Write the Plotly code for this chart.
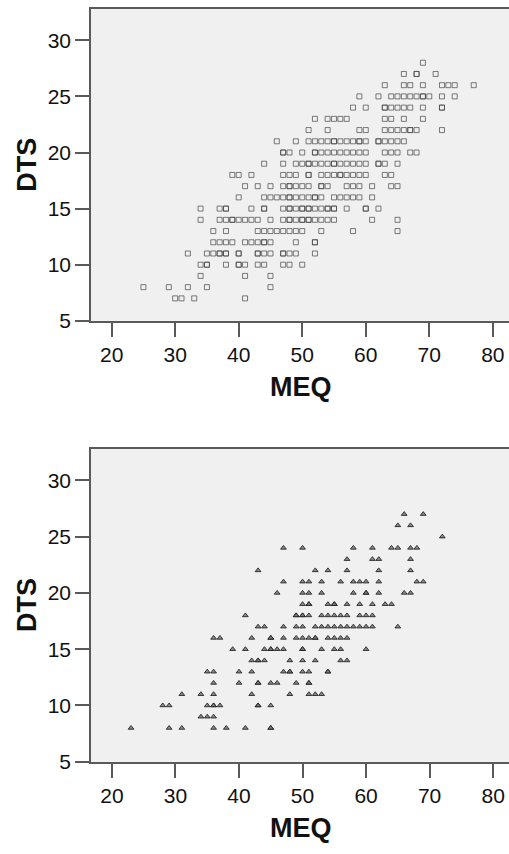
import plotly.graph_objects as go

# ---- data: MEQ values observed at each DTS level ----
top_dts_levels = [28, 27, 26, 25, 24, 23, 22, 21, 20, 19, 18, 17, 16, 15, 14, 13, 12, 11, 10, 9, 8, 7]
top_meq_by_level = [
    [69],
    [66, 68, 68, 71],
    [63, 66, 67, 69, 72, 73, 74, 77],
    [59, 62, 64, 65, 66, 67, 68, 69, 69, 70, 72, 74],
    [58, 60, 63, 63, 64, 65, 66, 67, 69, 72, 72],
    [52, 54, 55, 56, 57, 63, 64, 66, 69],
    [51, 54, 59, 60, 63, 64, 65, 66, 67, 67, 68, 72],
    [46, 49, 51, 52, 53, 54, 55, 55, 56, 57, 58, 59, 59, 60, 62, 62, 63, 64, 65, 66],
    [47, 47, 48, 50, 52, 52, 53, 54, 55, 56, 57, 58, 59, 60, 63, 64, 65, 67, 68],
    [44, 47, 49, 50, 51, 51, 52, 53, 54, 55, 55, 56, 57, 58, 59, 60, 62, 62, 63, 65],
    [39, 40, 42, 47, 48, 49, 51, 51, 53, 54, 55, 56, 56, 57, 58, 59, 60, 63, 64],
    [41, 43, 45, 47, 48, 48, 49, 50, 51, 53, 53, 54, 57, 58, 59, 61, 64, 65],
    [40, 44, 45, 46, 47, 48, 48, 49, 50, 51, 52, 52, 53, 55, 56, 57, 58, 59, 61],
    [34, 37, 38, 38, 42, 44, 44, 47, 48, 48, 49, 50, 50, 51, 51, 52, 53, 54, 54, 55, 55, 57, 60, 60, 62],
    [34, 37, 38, 39, 39, 40, 41, 42, 43, 45, 47, 48, 48, 49, 50, 50, 51, 51, 52, 53, 54, 55, 61, 65],
    [36, 38, 43, 44, 45, 46, 47, 48, 49, 50, 53, 58, 65],
    [36, 37, 38, 39, 41, 42, 43, 44, 44, 45, 49, 52, 52],
    [32, 35, 36, 37, 37, 38, 38, 40, 40, 43, 43, 44, 45, 47, 47, 48, 49, 52],
    [34, 35, 35, 38, 40, 40, 41, 43, 44, 47, 48, 50],
    [34, 41, 45],
    [25, 29, 32, 35, 45],
    [30, 31, 33, 41],
]

bottom_dts_levels = [27, 26, 25, 24, 23, 22, 21, 20, 19, 18, 17, 16, 15, 14, 13, 12, 11, 10, 9, 8]
bottom_meq_by_level = [
    [66, 69],
    [65, 67],
    [72],
    [47, 50, 58, 61, 64, 65, 67, 68],
    [57, 61, 62, 67],
    [43, 52, 54, 57, 62, 67],
    [47, 50, 51, 53, 56, 58, 59, 60, 62, 68, 69],
    [46, 50, 51, 53, 58, 60, 60, 62, 66, 67],
    [50, 51, 51, 54, 55, 55, 57, 59, 61, 63, 64],
    [41, 49, 49, 50, 50, 51, 53, 54, 55, 56, 57, 59, 60, 61],
    [43, 44, 47, 49, 50, 52, 53, 54, 55, 56, 57, 58, 59, 60, 61, 65],
    [36, 37, 42, 45, 45, 47, 49, 50, 51, 52, 52, 54, 55, 56, 57],
    [39, 41, 44, 45, 45, 46, 47, 50, 50, 53, 55, 56, 60],
    [42, 43, 43, 44, 48, 50, 52, 56, 57],
    [35, 36, 40, 42, 47, 48, 48, 50, 51, 54, 54],
    [36, 40, 43, 43, 45, 46, 49, 51, 51],
    [31, 34, 36, 42, 48, 51, 52, 53],
    [28, 29, 35, 36, 36, 37, 43, 43, 45],
    [34, 35, 36],
    [23, 29, 31, 36, 38, 41, 45, 45],
]

x_tickvals = [20, 30, 40, 50, 60, 70, 80]
y_tickvals = [5, 10, 15, 20, 25, 30]
x_title = "MEQ"
y_title = "DTS"


def flatten(levels, rows):
    xs, ys = [], []
    for lv, row in zip(levels, rows):
        for m in row:
            xs.append(m)
            ys.append(lv)
    return xs, ys


tx, ty = flatten(top_dts_levels, top_meq_by_level)
bx, by = flatten(bottom_dts_levels, bottom_meq_by_level)

W, H = 509, 854
FONT = "Arial, Liberation Sans, sans-serif"

fig = go.Figure()
fig.add_trace(go.Scatter(
    x=tx, y=ty, mode="markers", xaxis="x", yaxis="y",
    marker=dict(symbol="square-open", size=5, color="rgba(70,70,70,0.7)",
                line=dict(width=1, color="rgba(70,70,70,0.7)")),
    hoverinfo="x+y", showlegend=False))
fig.add_trace(go.Scatter(
    x=bx, y=by, mode="markers", xaxis="x2", yaxis="y2",
    marker=dict(symbol="triangle-up", size=5, color="rgba(120,120,120,0.85)",
                line=dict(width=1, color="rgba(30,30,30,0.85)")),
    hoverinfo="x+y", showlegend=False))

axis_common = dict(
    showgrid=False, zeroline=False, showline=True, linecolor="#5a5a5a", linewidth=1.5,
    ticks="outside", ticklen=14, tickwidth=1.5, tickcolor="#5a5a5a",
    tickfont=dict(family=FONT, size=21, color="#111"),
)

x_dom = [91 / W, 1.0]
top_dom = [1 - 325 / H, 1 - 9 / H]
bot_dom = [1 - 771.7 / H, 1 - 454.7 / H]

fig.update_layout(
    width=W, height=H, margin=dict(l=0, r=0, t=0, b=0),
    paper_bgcolor="white", plot_bgcolor="#f0f0f0",
    xaxis=dict(domain=x_dom, range=[16.75, 82.55], tickvals=x_tickvals, anchor="y",
               mirror=True, **axis_common),
    yaxis=dict(domain=top_dom, range=[5, 32.8], tickvals=y_tickvals, anchor="x",
               mirror=False, **axis_common),
    xaxis2=dict(domain=x_dom, range=[16.7, 82.5], tickvals=x_tickvals, anchor="y2",
                mirror=True, **axis_common),
    yaxis2=dict(domain=bot_dom, range=[5, 32.8], tickvals=y_tickvals, anchor="x2",
                mirror=False, **axis_common),
    annotations=[
        dict(text="<b>%s</b>" % y_title, x=27 / W, y=1 - 167 / H, xref="paper", yref="paper",
             showarrow=False, textangle=-90, font=dict(family=FONT, size=27, color="#111"),
             xanchor="center", yanchor="middle"),
        dict(text="<b>%s</b>" % y_title, x=27 / W, y=1 - 613 / H, xref="paper", yref="paper",
             showarrow=False, textangle=-90, font=dict(family=FONT, size=27, color="#111"),
             xanchor="center", yanchor="middle"),
        dict(text="<b>%s</b>" % x_title, x=301 / W, y=1 - 392 / H, xref="paper", yref="paper",
             showarrow=False, font=dict(family=FONT, size=27, color="#111"),
             xanchor="center", yanchor="middle"),
        dict(text="<b>%s</b>" % x_title, x=301 / W, y=1 - 839 / H, xref="paper", yref="paper",
             showarrow=False, font=dict(family=FONT, size=27, color="#111"),
             xanchor="center", yanchor="middle"),
    ],
)

fig.write_html("out.html")
